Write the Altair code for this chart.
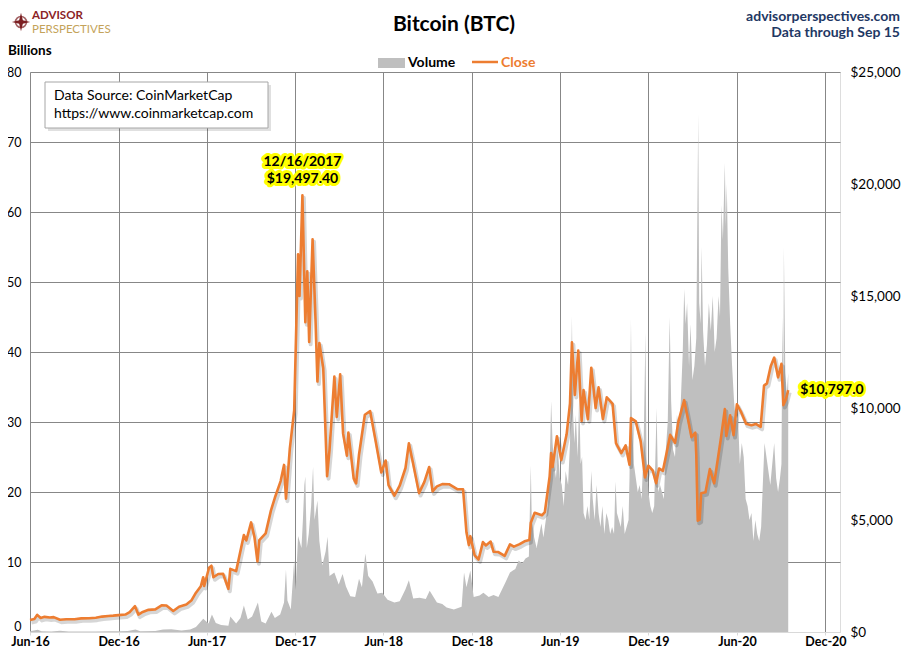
import altair as alt
import pandas as pd

# ---------------- data ----------------
close_dates = [
    "2016-06-01","2016-06-10","2016-06-16","2016-06-23","2016-07-01","2016-07-12","2016-07-20","2016-08-02",
    "2016-08-15","2016-09-01","2016-09-15","2016-10-01","2016-10-15","2016-10-28","2016-11-10","2016-11-20",
    "2016-12-01","2016-12-15","2016-12-24","2017-01-04","2017-01-11","2017-01-20","2017-02-01","2017-02-15",
    "2017-02-28","2017-03-10","2017-03-24","2017-04-05","2017-04-20","2017-05-01","2017-05-10","2017-05-20",
    "2017-05-25","2017-05-27","2017-06-06","2017-06-11","2017-06-15","2017-06-25","2017-07-05","2017-07-16",
    "2017-07-20","2017-08-01","2017-08-08","2017-08-17","2017-08-22","2017-09-01","2017-09-08","2017-09-14",
    "2017-09-18","2017-10-01","2017-10-12","2017-10-20","2017-11-01","2017-11-08","2017-11-12","2017-11-20",
    "2017-11-29","2017-12-07","2017-12-10","2017-12-16","2017-12-22","2017-12-26","2017-12-30","2018-01-06",
    "2018-01-12","2018-01-16","2018-01-20","2018-01-28","2018-02-05","2018-02-10","2018-02-20","2018-02-25",
    "2018-03-04","2018-03-10","2018-03-18","2018-03-21","2018-04-01","2018-04-06","2018-04-12","2018-04-24",
    "2018-05-05","2018-05-15","2018-05-28","2018-06-06","2018-06-12","2018-06-24","2018-07-05","2018-07-17",
    "2018-07-24","2018-08-01","2018-08-14","2018-08-25","2018-09-04","2018-09-11","2018-09-20","2018-10-01",
    "2018-10-15","2018-11-01","2018-11-13","2018-11-20","2018-11-25","2018-11-28","2018-12-07","2018-12-15",
    "2018-12-24","2018-12-30","2019-01-09","2019-01-15","2019-01-25","2019-02-07","2019-02-18","2019-02-26",
    "2019-03-10","2019-03-20","2019-03-30","2019-04-02","2019-04-10","2019-04-25","2019-05-01","2019-05-11",
    "2019-05-14","2019-05-17","2019-05-26","2019-06-04","2019-06-15","2019-06-22","2019-06-26","2019-07-02",
    "2019-07-09","2019-07-16","2019-07-20","2019-07-29","2019-08-05","2019-08-14","2019-08-20","2019-08-29",
    "2019-09-06","2019-09-18","2019-09-25","2019-10-06","2019-10-15","2019-10-23","2019-10-26","2019-11-05",
    "2019-11-15","2019-11-24","2019-12-01","2019-12-10","2019-12-17","2019-12-23","2019-12-31","2020-01-08",
    "2020-01-15","2020-01-25","2020-02-01","2020-02-13","2020-02-20","2020-02-28","2020-03-07","2020-03-09",
    "2020-03-12","2020-03-16","2020-03-19","2020-03-28","2020-04-06","2020-04-15","2020-04-29","2020-05-07",
    "2020-05-10","2020-05-18","2020-05-25","2020-06-01","2020-06-10","2020-06-20","2020-07-01","2020-07-10",
    "2020-07-20","2020-07-27","2020-08-02","2020-08-10","2020-08-17","2020-08-25","2020-09-01","2020-09-05",
    "2020-09-10","2020-09-15",
]
close_values = [
    537, 577, 766, 626, 676, 648, 665, 547,
    567, 572, 607, 614, 639, 688, 715, 730,
    754, 780, 890, 1154, 777, 895, 989, 1008,
    1190, 1180, 937, 1130, 1230, 1421, 1756, 2041,
    2446, 2052, 2870, 2958, 2442, 2589, 2601, 1929,
    2817, 2718, 3420, 4331, 4086, 4892, 4226, 3154,
    4100, 4403, 5430, 5993, 6737, 7459, 5950, 8200,
    9888, 16867, 15000, 19497.4, 13831, 16099, 12952, 17527,
    13980, 11180, 12900, 11786, 6955, 8130, 11403, 9600,
    11500, 8866, 7869, 8900, 6844, 6636, 7925, 9697,
    9858, 8684, 7118, 7657, 6554, 6083, 6530, 7322,
    8424, 7605, 6200, 6700, 7366, 6276, 6500, 6604,
    6597, 6377, 6373, 4452, 3880, 4278, 3418, 3236,
    4014, 3865, 4036, 3584, 3570, 3398, 3911, 3811,
    3923, 4050, 4106, 4880, 5325, 5210, 5350, 6960,
    7994, 7363, 8740, 7674, 8827, 10210, 12932, 10583,
    12567, 9420, 10800, 9500, 11800, 10000, 10920, 9510,
    10480, 10180, 8430, 7990, 8330, 7470, 9550, 9400,
    8520, 6900, 7424, 7200, 6640, 7300, 7193, 8040,
    8800, 8440, 9390, 10350, 9600, 8700, 8900, 7900,
    4970, 5014, 6190, 6240, 7270, 6640, 8660, 9950,
    8750, 9670, 8790, 10167, 9800, 9300, 9230, 9290,
    9160, 11000, 11100, 11880, 12250, 11370, 11970, 10130,
    10380, 10797.0,
]

vol_dates = [
    "2016-06-01","2016-06-17","2016-06-25","2016-07-15","2016-08-02","2016-08-20","2016-09-15","2016-10-15",
    "2016-11-10","2016-12-01","2016-12-20","2017-01-05","2017-01-15","2017-02-15","2017-03-03","2017-03-20",
    "2017-04-10","2017-04-28","2017-05-10","2017-05-25","2017-06-05","2017-06-12","2017-06-20","2017-07-01",
    "2017-07-16","2017-07-20","2017-08-01","2017-08-10","2017-08-17","2017-08-25","2017-09-03","2017-09-15",
    "2017-09-22","2017-10-01","2017-10-13","2017-10-20","2017-10-31","2017-11-08","2017-11-12","2017-11-15",
    "2017-11-22","2017-11-29","2017-12-02","2017-12-07","2017-12-10","2017-12-14","2017-12-17","2017-12-20",
    "2017-12-22","2017-12-25","2017-12-29","2018-01-03","2018-01-07","2018-01-10","2018-01-16","2018-01-20",
    "2018-01-26","2018-02-02","2018-02-06","2018-02-10","2018-02-20","2018-03-01","2018-03-09","2018-03-16",
    "2018-03-25","2018-04-04","2018-04-12","2018-04-18","2018-04-25","2018-05-01","2018-05-10","2018-05-20",
    "2018-05-30","2018-06-10","2018-06-24","2018-07-05","2018-07-17","2018-07-24","2018-08-02","2018-08-15",
    "2018-08-28","2018-09-05","2018-09-20","2018-10-01","2018-10-10","2018-10-25","2018-11-10","2018-11-15",
    "2018-11-20","2018-11-28","2018-12-05","2018-12-17","2018-12-25","2019-01-05","2019-01-15","2019-01-25",
    "2019-02-08","2019-02-18","2019-02-24",
    "2019-03-01","2019-03-08","2019-03-15","2019-03-22","2019-03-29","2019-04-02","2019-04-04","2019-04-09",
    "2019-04-14","2019-04-19","2019-04-24","2019-04-28","2019-05-03","2019-05-07","2019-05-10","2019-05-14",
    "2019-05-17","2019-05-20","2019-05-24","2019-05-28","2019-06-01","2019-06-05","2019-06-09","2019-06-13",
    "2019-06-18","2019-06-22","2019-06-26","2019-06-28","2019-07-01","2019-07-04","2019-07-08","2019-07-11",
    "2019-07-14","2019-07-17","2019-07-20","2019-07-24","2019-07-28","2019-08-01","2019-08-05","2019-08-08",
    "2019-08-12","2019-08-16","2019-08-20","2019-08-24","2019-08-28","2019-09-01","2019-09-05","2019-09-09",
    "2019-09-13","2019-09-17","2019-09-21","2019-09-24","2019-09-27","2019-10-01","2019-10-05","2019-10-09",
    "2019-10-13","2019-10-17","2019-10-21","2019-10-23","2019-10-26","2019-10-28","2019-11-01","2019-11-05",
    "2019-11-09","2019-11-13","2019-11-17","2019-11-21","2019-11-25","2019-11-27","2019-12-01","2019-12-05",
    "2019-12-09","2019-12-13","2019-12-18","2019-12-21","2019-12-25","2019-12-29","2020-01-02","2020-01-06",
    "2020-01-10","2020-01-14","2020-01-17","2020-01-21","2020-01-25","2020-01-29","2020-02-02","2020-02-06",
    "2020-02-10","2020-02-13","2020-02-16","2020-02-19","2020-02-23","2020-02-26","2020-03-01","2020-03-05",
    "2020-03-09","2020-03-13","2020-03-15","2020-03-18","2020-03-20","2020-03-23","2020-03-27","2020-03-31",
    "2020-04-04","2020-04-08","2020-04-12","2020-04-16","2020-04-20","2020-04-24","2020-04-27","2020-04-30",
    "2020-05-03","2020-05-07","2020-05-09","2020-05-11","2020-05-14","2020-05-18","2020-05-22","2020-05-26",
    "2020-05-30","2020-06-03","2020-06-07","2020-06-11","2020-06-15","2020-06-19","2020-06-23","2020-06-27",
    "2020-07-01","2020-07-05","2020-07-09","2020-07-13","2020-07-17","2020-07-21","2020-07-25","2020-07-28",
    "2020-08-01","2020-08-05","2020-08-09","2020-08-13","2020-08-17","2020-08-21","2020-08-25","2020-08-29",
    "2020-09-01","2020-09-03","2020-09-05","2020-09-06","2020-09-09","2020-09-12","2020-09-15",
]
vol_values = [
    0.09, 0.33, 0.1, 0.08, 0.17, 0.06, 0.08, 0.06,
    0.1, 0.1, 0.15, 0.35, 0.12, 0.13, 0.35, 0.4,
    0.2, 0.35, 0.7, 1.9, 1.2, 2.5, 1.3, 1.0,
    0.9, 2.2, 1.2, 2.0, 3.8, 1.8, 2.2, 4.2,
    1.5, 1.2, 2.9, 2.0, 2.5, 4.2, 8.9, 4.5,
    3.2, 10.3, 6.0, 13.7, 13.0, 12.0, 16.0, 21.0,
    22.2, 12.0, 14.0, 18.0, 23.6, 16.0, 18.8, 13.0,
    9.5, 11.5, 13.6, 8.0, 8.5, 6.8, 8.3, 6.5,
    5.1, 5.0, 7.6, 6.4, 11.2, 8.0, 7.2, 5.5,
    5.6, 4.6, 4.2, 4.4, 6.1, 7.4, 4.8, 4.9,
    4.7, 5.9, 4.2, 4.0, 3.5, 3.2, 3.6, 8.5,
    6.4, 8.8, 5.0, 5.2, 5.6, 5.0, 5.3, 5.0,
    7.0, 8.5, 8.8,
    9.0, 10.2, 9.8, 10.5, 10.8, 23.8, 16.0, 13.5,
    12.0, 13.8, 15.5, 13.5, 16.0, 18.0, 21.0, 33.0,
    27.0, 24.0, 22.0, 26.0, 22.0, 21.0, 18.0, 23.0,
    21.0, 27.0, 45.1, 32.0, 27.0, 31.0, 25.0, 34.0,
    24.0, 25.0, 17.0, 16.0, 18.0, 16.0, 23.0, 19.0,
    16.0, 21.0, 17.0, 15.0, 18.0, 14.0, 17.0, 16.0,
    14.0, 15.0, 14.0, 21.5, 17.0, 16.0, 15.0, 18.0,
    14.0, 15.0, 16.0, 22.0, 44.7, 30.0, 24.0, 22.0,
    20.0, 21.0, 19.0, 26.0, 42.8, 25.0, 20.0, 18.0,
    17.0, 18.0, 32.0, 20.0, 21.0, 20.0, 19.0, 26.0,
    30.0, 45.0, 33.0, 26.0, 25.0, 31.0, 29.0, 33.0,
    40.0, 49.0, 44.0, 47.0, 38.0, 44.0, 36.0, 38.0,
    42.0, 74.0, 47.0, 44.0, 55.0, 43.0, 38.0, 41.0,
    47.0, 43.0, 48.0, 40.0, 42.0, 48.0, 45.0, 61.0,
    56.0, 67.0, 58.0, 64.0, 52.0, 44.0, 38.0, 33.0,
    30.0, 31.0, 24.0, 27.0, 25.0, 19.0, 18.0, 16.0,
    17.0, 13.0, 16.0, 14.0, 13.0, 15.0, 22.0, 27.0,
    25.0, 23.0, 21.0, 24.0, 27.0, 22.0, 20.0, 22.0,
    24.0, 45.0, 35.0, 55.0, 37.0, 34.0, 37.0,
]

tick_dates = ["2016-06-01","2016-12-01","2017-06-01","2017-12-01","2018-06-01",
              "2018-12-01","2019-06-01","2019-12-01","2020-06-01","2020-12-01"]
x_domain = ["2016-06-01", "2020-12-31"]
left_ticks = [0, 10, 20, 30, 40, 50, 60, 70, 80]
right_ticks = [0, 5000, 10000, 15000, 20000, 25000]

peak_date, peak_value = "2017-12-16", 19497.40
last_date, last_value = "2020-09-15", 10797.0

# ---------------- helpers ----------------
def ms(d):
    return int(pd.Timestamp(d, tz="UTC").value // 10**6)

close_df = pd.DataFrame({"date": close_dates, "close": close_values})
vol_df = pd.DataFrame({"date": vol_dates, "volume": vol_values})
peak_df = pd.DataFrame({"date": [peak_date], "close": [peak_value]})
last_df = pd.DataFrame({"date": [last_date], "close": [last_value]})

FONT = "Lato"
ORANGE = "#ED7D31"
GRAY = "#BFBFBF"
GRID = "#878787"

xscale = alt.Scale(type="utc", domain=[ms(x_domain[0]), ms(x_domain[1])])
xaxis = alt.Axis(values=[ms(d) for d in tick_dates],
                 labelExpr="utcFormat(datum.value, '%b-%y')",
                 title=None, grid=True, gridColor=GRID, gridWidth=1,
                 domainColor="#D9D9D9", tickColor="#D9D9D9", tickSize=3,
                 labelFont=FONT, labelFontSize=12.5, labelFontWeight="bold",
                 labelColor="#000000", labelPadding=0, labelFlush=False)
cscale = alt.Scale(domain=[0, 25000], nice=False, zero=True)
caxis = alt.Axis(orient="right", values=right_ticks, format="$,.0f", title=None,
                 domain=False, ticks=False, grid=False, labelFont=FONT,
                 labelFontSize=13.5, labelColor="#000000", labelPadding=10)

def X(field="date"):
    return alt.X(f"{field}:T", scale=xscale, axis=xaxis)

def YC(field="close"):
    return alt.Y(f"{field}:Q", scale=cscale, axis=caxis)

one = alt.Data(values=[{}])

def txt(s, x, y, size=14, weight="normal", color="#000000", align="left"):
    return alt.Chart(one).mark_text(text=s, align=align, baseline="middle", fontSize=size,
                                    fontWeight=weight, color=color, font=FONT).encode(
        x=alt.value(x), y=alt.value(y))

# ---------------- volume (left axis) ----------------
vol_layer = alt.Chart(vol_df).mark_area(color=GRAY, interpolate="linear").encode(
    x=X(),
    y=alt.Y("volume:Q", scale=alt.Scale(domain=[0, 80], nice=False),
            axis=alt.Axis(orient="left", values=left_ticks, title=None, domain=False, ticks=False,
                          grid=True, gridWidth=1,
                          gridColor=alt.condition("datum.value === 0", alt.value("#D9D9D9"), alt.value(GRID)),
                          labelBaseline=alt.condition("datum.value === 0", alt.value("bottom"), alt.value("middle")),
                          labelOffset=alt.condition("datum.value === 0", alt.value(1), alt.value(0)),
                          labelFont=FONT, labelFontSize=12.5, labelColor="#000000", labelPadding=9)),
)

# ---------------- close (right axis) ----------------
shadow = alt.Chart(close_df).transform_calculate(
    sd="toDate(datum.date) + 3 * 86400000", sc="datum.close - 110"
).mark_line(color="#000000", opacity=0.16, strokeWidth=4, strokeJoin="round").encode(
    x=X("sd"), y=YC("sc"))

line = alt.Chart(close_df).mark_line(color=ORANGE, strokeWidth=2.6, strokeJoin="round").encode(
    x=X(), y=YC())

def glow_text(df, s, dx, dy, align):
    base = dict(text=s, dx=dx, dy=dy, align=align, baseline="middle", fontSize=14,
                fontWeight="bold", font=FONT)
    g = alt.Chart(df).mark_text(fill="#FFFF00", stroke="#FFFF00", strokeWidth=6,
                                strokeJoin="round", **base).encode(x=X(), y=YC())
    t = alt.Chart(df).mark_text(fill="#000000", **base).encode(x=X(), y=YC())
    return [g, t]

ann = (glow_text(peak_df, "12/16/2017", 0, -33, "center")
       + glow_text(peak_df, "$19,497.40", 0, -16, "center")
       + glow_text(last_df, "$10,797.0", 12, 0, "left"))

price_layer = alt.layer(shadow, line, *ann)

# ---------------- decorations ----------------
star_path = "M0,-1L0.2,-0.2L1,0L0.2,0.2L0,1L-0.2,0.2L-1,0L-0.2,-0.2Z"
deco = [
    # data source box
    alt.Chart(one).mark_rect(fill="#000000", opacity=0.12).encode(
        x=alt.value(18), x2=alt.value(241), y=alt.value(13), y2=alt.value(59)),
    alt.Chart(one).mark_rect(fill="#FFFFFF", stroke="#A6A6A6", strokeWidth=1).encode(
        x=alt.value(15), x2=alt.value(238), y=alt.value(10), y2=alt.value(56)),
    txt("Data Source: CoinMarketCap", 24, 24, size=14),
    txt("https://www.coinmarketcap.com", 24, 42, size=14),
    # title
    txt("Bitcoin (BTC)", 424, -47, size=21, weight="bold", align="center"),
    # legend
    alt.Chart(one).mark_rect(fill=GRAY).encode(
        x=alt.value(348), x2=alt.value(375), y=alt.value(-14), y2=alt.value(-4)),
    txt("Volume", 378, -9, size=14, weight="bold"),
    alt.Chart(one).mark_rule(color=ORANGE, strokeWidth=2.5).encode(
        x=alt.value(442), x2=alt.value(468), y=alt.value(-10)),
    txt("Close", 471, -9, size=14, weight="bold", color=ORANGE),
    # top right
    txt("advisorperspectives.com", 870, -55, size=14, weight="bold", color="#1F3864", align="right"),
    txt("Data through Sep 15", 870, -39, size=14, weight="bold", color="#1F3864", align="right"),
    # axis unit
    txt("Billions", -22, -21, size=13.5, weight="bold"),
    # logo
    alt.Chart(one).mark_point(shape="circle", filled=False, stroke="#7B1F22", strokeWidth=1.6,
                              size=120).encode(x=alt.value(-9), y=alt.value(-50)),
    alt.Chart(one).mark_point(shape=star_path, filled=True, fill="#7B1F22", strokeWidth=0,
                              size=340, opacity=1).encode(x=alt.value(-9), y=alt.value(-50)),
    txt("ADVISOR", 2, -56.5, size=11.5, weight="bold", color="#8B2326"),
    txt("PERSPECTIVES", 2, -42, size=11.5, weight="normal", color="#C4A35A"),
]

chart = alt.layer(vol_layer, price_layer, *deco).resolve_scale(y="independent").properties(
    width=810, height=560,
    padding={"left": 22, "top": 64, "right": 61, "bottom": 18},
    autosize=alt.AutoSizeParams(type="none"),
    background="#FFFFFF",
).configure_view(stroke=None).configure(font=FONT)

chart.save("out.html", embed_options={"renderer": "svg", "actions": False})
